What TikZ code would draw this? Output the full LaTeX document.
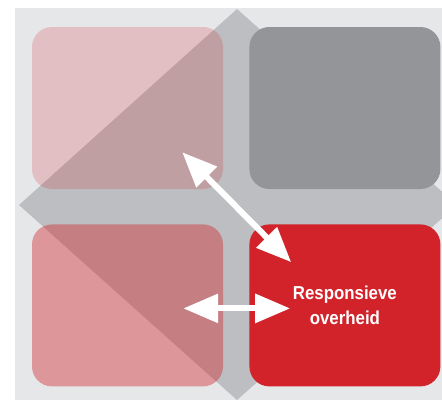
\documentclass[tikz,border=0pt]{standalone}
\usepackage{fontspec}
\usepackage{xcolor}
\usetikzlibrary{arrows.meta,positioning}
\newfontfamily\labelfont{Liberation Sans}[FakeStretch=0.9]
\definecolor{pagebg}{HTML}{E6E7E8}
\definecolor{crossgray}{HTML}{BCBEC1}
\definecolor{boxgray}{HTML}{939598}
\definecolor{boxred}{HTML}{D2232A}

\begin{document}
\begin{tikzpicture}[
  x=1pt, y=-1pt,
  quad/.style={
    rounded corners=20pt,
    minimum width=191pt,
    minimum height=162pt,
    inner sep=0pt,
    draw=none
  },
  tagtext/.style={
    font=\labelfont\bfseries\fontsize{18.7}{25}\selectfont,
    text=white,
    align=center
  },
  twoway/.style={{Triangle[length=35pt,width=28pt]}-{Triangle[length=35pt,width=28pt]}, line width=6pt, draw=white}
]
  \useasboundingbox (0,0) rectangle (442,400);

  % Backdrop and diamond
  \fill[pagebg] (15,8) rectangle (442,400);
  \begin{scope}
    \clip (15,8) rectangle (442,400);
    \fill[crossgray] (237,9) -- (457,205) -- (237,400) -- (19,205) -- cycle;
  \end{scope}

  % Four quadrants
  \node[quad, fill=boxred, fill opacity=0.2] (tl) at (127.5,108) {};
  \node[quad, fill=boxgray, right=26pt of tl] (tr) {};
  \node[quad, fill=boxred, fill opacity=0.41, below=35pt of tl] (bl) {};
  \node[quad, fill=boxred, right=26pt of bl, tagtext] (br) {Responsieve\\overheid};

  % Arrow ends
  \coordinate (tlend) at ([shift={(-41,-37)}]tl.south east);
  \coordinate (brcorner) at ([shift={(42,38)}]br.north west);
  \coordinate (blend) at ([shift={(-40,3)}]bl.east);
  \coordinate (brside) at ([shift={(41,3)}]br.west);

  % Double arrows
  \draw[twoway] (tlend) -- (brcorner);
  \draw[twoway] (blend) -- (brside);
\end{tikzpicture}
\end{document}
